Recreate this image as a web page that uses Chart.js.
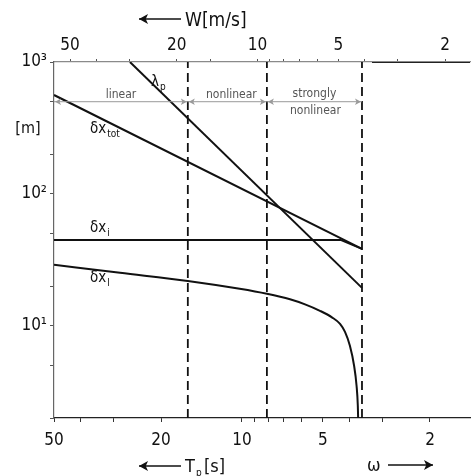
<!DOCTYPE html>
<html>
<head>
<meta charset="utf-8">
<script src="https://cdn.jsdelivr.net/npm/chart.js@4/dist/chart.umd.min.js"></script>
<style>
  html,body{margin:0;padding:0;background:#fff;}
  canvas{display:block;}
</style>
</head>
<body>
<canvas id="c" width="474" height="476"></canvas>
<script>
// wave scales vs peak period, log-log, period axis reversed

// lambda_p (peak wavelength)
const T_LAMBDA = [26.1, 3.58];
const LAMBDA_P = [1000, 19.4];
// dx_tot
const T_TOT = [50, 3.58];
const DX_TOT = [562, 38.3];
// dx_i
const T_DXI = [50, 4.3, 3.58];
const DX_I = [44.8, 44.8, 38.3];
// dx_l
const T_DXL = [50, 28.4, 15.9, 10.2, 8.08, 6.63, 5.83, 5.13, 4.63, 4.32, 4.14, 3.97, 3.83, 3.75, 3.71, 3.70];
const DX_L = [29.0, 25.2, 21.9, 19.1, 17.5, 15.9, 14.55, 13.0, 11.6, 10.35, 9.0, 7.06, 4.98, 3.51, 2.48, 2.0];

// regime boundaries (T_p) and the level of the regime bar
const T_BOUNDS = [15.9, 8.08, 3.58];
const REGION_LEVEL = 500;
const REGION_NAMES = ['linear', 'nonlinear', 'strongly'];

// ticks
const T_TICKS = [50, 40, 30, 20, 10, 9, 8, 7, 6, 5, 4, 3, 2];
const W_TICKS = [50, 40, 30, 20, 15, 10, 9, 8, 7, 6, 5, 4, 3, 2];
const X_LABELED = [50, 20, 10, 5, 2];
const Y_TICKS = [2, 5, 10, 20, 50, 100, 200, 500, 1000];
const Y_LABELS = {10: '10\u00b9', 100: '10\u00b2', 1000: '10\u00b3'};

// axis ranges
const T_RANGE = [1.42, 50];
const W_RANGE = [1.615, 57.4];
const Y_RANGE = [2, 1000];

const FONT = '"DejaVu Sans Condensed","DejaVu Sans",sans-serif';
Chart.defaults.font.family = FONT;
Chart.defaults.color = '#111';

const pts = (xs, ys) => xs.map((x, i) => ({x: x, y: ys[i]}));
const curve = (xs, ys, extra) => Object.assign({
  data: pts(xs, ys), borderColor: '#111', borderWidth: 2, pointRadius: 0, fill: false
}, extra || {});

const datasets = [
  curve(T_LAMBDA, LAMBDA_P),
  curve(T_TOT, DX_TOT),
  curve(T_DXI, DX_I),
  curve(T_DXL, DX_L, {cubicInterpolationMode: 'monotone'})
];
T_BOUNDS.forEach(t => {
  datasets.push(curve([t, t], [Y_RANGE[0], Y_RANGE[1]], {borderWidth: 1.8, borderDash: [9, 5]}));
});

function setTicks(list){
  return scale => { scale.ticks = list.map(v => ({value: v})); };
}

function arrowHead(ctx, x, y, dir, size){
  ctx.beginPath();
  ctx.moveTo(x, y);
  ctx.lineTo(x - dir*size, y - size*0.55);
  ctx.lineTo(x - dir*size*0.75, y);
  ctx.lineTo(x - dir*size, y + size*0.55);
  ctx.closePath();
  ctx.fill();
}

const textPlugin = {
  id: 'texts',
  afterDraw(chart){
    const ctx = chart.ctx;
    const xs = chart.scales.x, ys = chart.scales.y;
    const area = chart.chartArea;
    ctx.save();

    // regime bar
    const yb = ys.getPixelForValue(REGION_LEVEL);
    const xb = [xs.getPixelForValue(T_RANGE[1])].concat(T_BOUNDS.map(t => xs.getPixelForValue(t)));
    ctx.strokeStyle = '#9a9a9a';
    ctx.fillStyle = '#9a9a9a';
    ctx.lineWidth = 1;
    ctx.beginPath();
    ctx.moveTo(xb[0], yb); ctx.lineTo(xb[3], yb);
    ctx.stroke();
    for (let i = 0; i < 3; i++) {
      arrowHead(ctx, xb[i] + 1, yb, -1, 6);
      arrowHead(ctx, xb[i+1] - 1, yb, 1, 6);
    }
    ctx.fillStyle = '#555';
    ctx.font = '12px ' + FONT;
    ctx.textAlign = 'center';
    ctx.textBaseline = 'alphabetic';
    ctx.fillText(REGION_NAMES[0], (xb[0] + xb[1]) / 2, yb - 4);
    ctx.fillText(REGION_NAMES[1], (xb[1] + xb[2]) / 2 + 4, yb - 4);
    ctx.fillText(REGION_NAMES[2], (xb[2] + xb[3]) / 2, yb - 5);
    ctx.fillText('nonlinear', (xb[2] + xb[3]) / 2 + 1, yb + 12);

    // darker top axis beyond the last boundary
    ctx.strokeStyle = '#222';
    ctx.lineWidth = 1;
    ctx.beginPath();
    ctx.moveTo(xb[3] + 10, area.top + 0.5); ctx.lineTo(area.right, area.top + 0.5);
    ctx.stroke();

    // curve labels
    ctx.fillStyle = '#111';
    ctx.textAlign = 'left';
    const lab = (main, sub, x, y) => {
      ctx.font = '15px ' + FONT;
      ctx.fillText(main, x, y);
      const w = ctx.measureText(main).width;
      ctx.font = '10px ' + FONT;
      ctx.fillText(sub, x + w + 1, y + 4);
    };
    lab('\u03bb', 'p', 151, 86);
    lab('\u03b4x', 'tot', 90, 133);
    lab('\u03b4x', 'i', 90, 232);
    lab('\u03b4x', 'l', 90, 282);

    // [m]
    ctx.font = '16px ' + FONT;
    ctx.textAlign = 'center';
    ctx.fillText('[m]', 28, 133);

    // axis titles with arrows
    ctx.strokeStyle = '#111';
    ctx.fillStyle = '#111';
    ctx.lineWidth = 1.5;
    const arrowLine = (x0, x1, y) => {
      ctx.beginPath(); ctx.moveTo(x0, y); ctx.lineTo(x1, y); ctx.stroke();
      arrowHead(ctx, x1, y, Math.sign(x1 - x0), 9);
    };
    arrowLine(181, 139, 19);
    ctx.font = '19px ' + FONT;
    ctx.textAlign = 'left';
    ctx.fillText('W[m/s]', 185, 26);

    arrowLine(181, 139, 466);
    ctx.font = '18px ' + FONT;
    ctx.fillText('T', 185, 472);
    ctx.font = '10px ' + FONT;
    ctx.fillText('p', 196, 476);
    ctx.font = '18px ' + FONT;
    ctx.fillText('[s]', 204, 472);
    ctx.fillText('\u03c9', 367, 471);
    arrowLine(388, 433, 465);
    ctx.restore();
  }
};

new Chart(document.getElementById('c'), {
  type: 'line',
  data: {datasets: datasets},
  options: {
    responsive: false,
    animation: false,
    layout: {padding: {left: 0, right: 4, top: 0, bottom: 0}},
    plugins: {legend: {display: false}, tooltip: {enabled: false}},
    scales: {
      x: {
        type: 'logarithmic', position: 'bottom', reverse: true,
        min: T_RANGE[0], max: T_RANGE[1],
        afterBuildTicks: setTicks(T_TICKS),
        afterFit: s => { s.height = 58; },
        border: {color: '#222', width: 1.2},
        grid: {drawOnChartArea: false, tickLength: 4, color: '#333'},
        ticks: {autoSkip: false, maxRotation: 0, padding: 8, font: {size: 17},
          callback: v => X_LABELED.includes(v) ? String(v) : ''}
      },
      x2: {
        type: 'logarithmic', position: 'top', reverse: true,
        min: W_RANGE[0], max: W_RANGE[1],
        afterBuildTicks: setTicks(W_TICKS),
        afterFit: s => { s.height = 62; },
        border: {color: '#8a8a8a', width: 1.2},
        grid: {drawOnChartArea: false, tickLength: 3, color: '#555'},
        ticks: {autoSkip: false, maxRotation: 0, padding: 3, font: {size: 17},
          callback: v => X_LABELED.includes(v) ? String(v) : ''}
      },
      y: {
        type: 'logarithmic', position: 'left',
        min: Y_RANGE[0], max: Y_RANGE[1],
        afterBuildTicks: setTicks(Y_TICKS),
        afterFit: s => { s.width = 54; },
        border: {color: '#666', width: 1.2},
        grid: {drawOnChartArea: false, tickLength: 4, color: '#555'},
        ticks: {autoSkip: false, padding: 3, font: {size: 17},
          callback: v => Y_LABELS[v] || ''}
      }
    }
  },
  plugins: [textPlugin]
});
</script>
</body>
</html>
